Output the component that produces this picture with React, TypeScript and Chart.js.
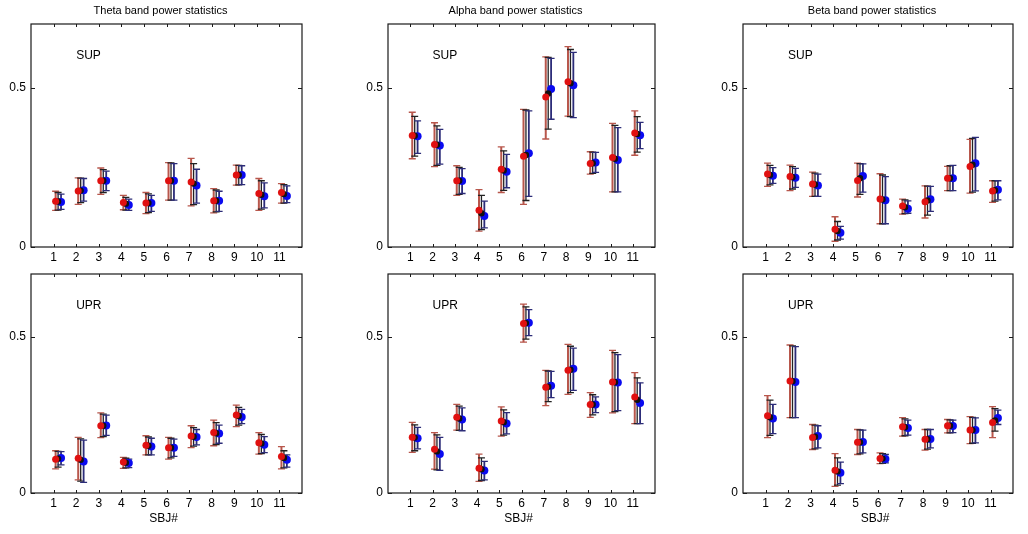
import React, { useEffect, useRef } from "react";
import { Chart, registerables } from "chart.js";

Chart.register(...registerables);

// ---------------- data ----------------
const subjects = [1, 2, 3, 4, 5, 6, 7, 8, 9, 10, 11];
const yTicks = [0, 0.5];

// Theta SUP
const thetaSupRed = [0.144, 0.176, 0.208, 0.140, 0.138, 0.208, 0.204, 0.145, 0.226, 0.168, 0.171];
const thetaSupRedLo = [0.115, 0.134, 0.165, 0.117, 0.105, 0.147, 0.129, 0.107, 0.194, 0.115, 0.138];
const thetaSupRedHi = [0.175, 0.217, 0.248, 0.162, 0.171, 0.265, 0.278, 0.183, 0.257, 0.215, 0.199];
const thetaSupBlack = [0.143, 0.177, 0.208, 0.136, 0.138, 0.208, 0.199, 0.145, 0.226, 0.164, 0.166];
const thetaSupBlackLo = [0.116, 0.139, 0.171, 0.116, 0.108, 0.147, 0.133, 0.110, 0.195, 0.119, 0.138];
const thetaSupBlackHi = [0.171, 0.216, 0.243, 0.156, 0.167, 0.264, 0.262, 0.179, 0.256, 0.208, 0.196];
const thetaSupBlue = [0.141, 0.178, 0.208, 0.132, 0.138, 0.208, 0.193, 0.145, 0.226, 0.159, 0.160];
const thetaSupBlueLo = [0.118, 0.144, 0.177, 0.115, 0.112, 0.147, 0.138, 0.112, 0.196, 0.123, 0.139];
const thetaSupBlueHi = [0.166, 0.215, 0.238, 0.150, 0.162, 0.262, 0.244, 0.175, 0.255, 0.201, 0.192];

// Alpha SUP
const alphaSupRed = [0.350, 0.322, 0.208, 0.115, 0.244, 0.285, 0.471, 0.519, 0.262, 0.281, 0.358];
const alphaSupRedLo = [0.277, 0.252, 0.162, 0.050, 0.171, 0.134, 0.339, 0.411, 0.229, 0.173, 0.288];
const alphaSupRedHi = [0.423, 0.390, 0.255, 0.180, 0.314, 0.432, 0.597, 0.629, 0.299, 0.388, 0.427];
const alphaSupBlack = [0.349, 0.321, 0.208, 0.106, 0.240, 0.289, 0.482, 0.514, 0.263, 0.277, 0.355];
const alphaSupBlackLo = [0.285, 0.256, 0.165, 0.055, 0.178, 0.146, 0.370, 0.409, 0.231, 0.173, 0.298];
const alphaSupBlackHi = [0.410, 0.380, 0.250, 0.162, 0.302, 0.430, 0.595, 0.620, 0.298, 0.382, 0.409];
const alphaSupBlue = [0.348, 0.319, 0.207, 0.097, 0.236, 0.294, 0.496, 0.508, 0.265, 0.273, 0.351];
const alphaSupBlueLo = [0.294, 0.260, 0.168, 0.060, 0.186, 0.159, 0.401, 0.406, 0.234, 0.173, 0.309];
const alphaSupBlueHi = [0.396, 0.369, 0.246, 0.144, 0.291, 0.427, 0.592, 0.611, 0.297, 0.375, 0.391];

// Beta SUP
const betaSupRed = [0.229, 0.221, 0.198, 0.056, 0.209, 0.151, 0.129, 0.142, 0.216, 0.253, 0.176];
const betaSupRedLo = [0.190, 0.177, 0.159, 0.018, 0.157, 0.073, 0.103, 0.091, 0.177, 0.169, 0.140];
const betaSupRedHi = [0.263, 0.257, 0.235, 0.095, 0.263, 0.230, 0.150, 0.192, 0.253, 0.338, 0.208];
const betaSupBlack = [0.226, 0.219, 0.196, 0.050, 0.216, 0.149, 0.125, 0.146, 0.216, 0.258, 0.178];
const betaSupBlackLo = [0.195, 0.182, 0.159, 0.022, 0.165, 0.073, 0.105, 0.100, 0.177, 0.172, 0.144];
const betaSupBlackHi = [0.256, 0.252, 0.232, 0.080, 0.262, 0.226, 0.148, 0.191, 0.255, 0.341, 0.208];
const betaSupBlue = [0.224, 0.217, 0.193, 0.045, 0.223, 0.147, 0.120, 0.150, 0.216, 0.263, 0.180];
const betaSupBlueLo = [0.200, 0.187, 0.159, 0.025, 0.172, 0.073, 0.106, 0.112, 0.177, 0.176, 0.148];
const betaSupBlueHi = [0.249, 0.247, 0.229, 0.065, 0.261, 0.221, 0.145, 0.190, 0.256, 0.344, 0.208];

// Theta UPR
const thetaUprRed = [0.108, 0.111, 0.215, 0.099, 0.153, 0.145, 0.182, 0.193, 0.249, 0.161, 0.117];
const thetaUprRedLo = [0.077, 0.042, 0.177, 0.079, 0.122, 0.108, 0.145, 0.151, 0.212, 0.124, 0.077];
const thetaUprRedHi = [0.135, 0.178, 0.256, 0.114, 0.183, 0.178, 0.215, 0.233, 0.281, 0.193, 0.148];
const thetaUprBlack = [0.110, 0.106, 0.215, 0.097, 0.151, 0.145, 0.180, 0.191, 0.246, 0.158, 0.112];
const thetaUprBlackLo = [0.083, 0.038, 0.180, 0.080, 0.122, 0.112, 0.150, 0.155, 0.217, 0.126, 0.080];
const thetaUprBlackHi = [0.133, 0.173, 0.252, 0.111, 0.179, 0.175, 0.209, 0.225, 0.274, 0.187, 0.135];
const thetaUprBlue = [0.112, 0.101, 0.216, 0.096, 0.149, 0.145, 0.179, 0.190, 0.243, 0.154, 0.106];
const thetaUprBlueLo = [0.090, 0.034, 0.184, 0.081, 0.122, 0.117, 0.154, 0.159, 0.222, 0.129, 0.083];
const thetaUprBlueHi = [0.132, 0.169, 0.249, 0.108, 0.175, 0.172, 0.203, 0.217, 0.267, 0.180, 0.122];

// Alpha UPR
const alphaUprRed = [0.178, 0.140, 0.242, 0.079, 0.230, 0.542, 0.338, 0.392, 0.283, 0.355, 0.307];
const alphaUprRedLo = [0.130, 0.076, 0.201, 0.037, 0.182, 0.482, 0.279, 0.315, 0.242, 0.256, 0.222];
const alphaUprRedHi = [0.226, 0.193, 0.283, 0.124, 0.275, 0.604, 0.392, 0.475, 0.321, 0.456, 0.385];
const alphaUprBlack = [0.177, 0.133, 0.238, 0.076, 0.226, 0.543, 0.340, 0.394, 0.283, 0.354, 0.298];
const alphaUprBlackLo = [0.135, 0.074, 0.200, 0.040, 0.185, 0.492, 0.292, 0.321, 0.250, 0.260, 0.222];
const alphaUprBlackHi = [0.218, 0.186, 0.278, 0.112, 0.266, 0.595, 0.390, 0.469, 0.314, 0.449, 0.368];
const alphaUprBlue = [0.175, 0.125, 0.235, 0.072, 0.222, 0.544, 0.343, 0.397, 0.283, 0.353, 0.288];
const alphaUprBlueLo = [0.141, 0.072, 0.199, 0.042, 0.189, 0.503, 0.305, 0.328, 0.257, 0.263, 0.222];
const alphaUprBlueHi = [0.210, 0.178, 0.272, 0.101, 0.257, 0.586, 0.389, 0.463, 0.307, 0.442, 0.352];

// Beta UPR
const betaUprRed = [0.247, 0.358, 0.177, 0.073, 0.162, 0.110, 0.212, 0.172, 0.215, 0.201, 0.225];
const betaUprRedLo = [0.177, 0.241, 0.139, 0.021, 0.123, 0.094, 0.182, 0.137, 0.192, 0.158, 0.177];
const betaUprRedHi = [0.311, 0.473, 0.219, 0.126, 0.203, 0.128, 0.241, 0.203, 0.235, 0.244, 0.276];
const betaUprBlack = [0.242, 0.357, 0.180, 0.069, 0.162, 0.110, 0.210, 0.172, 0.215, 0.201, 0.232];
const betaUprBlackLo = [0.184, 0.241, 0.141, 0.025, 0.125, 0.095, 0.183, 0.140, 0.192, 0.159, 0.198];
const betaUprBlackHi = [0.297, 0.470, 0.217, 0.112, 0.202, 0.126, 0.237, 0.203, 0.234, 0.242, 0.270];
const betaUprBlue = [0.238, 0.355, 0.182, 0.065, 0.163, 0.109, 0.208, 0.173, 0.214, 0.201, 0.240];
const betaUprBlueLo = [0.190, 0.241, 0.144, 0.030, 0.128, 0.096, 0.185, 0.144, 0.193, 0.160, 0.219];
const betaUprBlueHi = [0.283, 0.468, 0.215, 0.099, 0.201, 0.123, 0.233, 0.203, 0.233, 0.240, 0.265];

// ---------------- layout / style ----------------
const FONT = "'Liberation Sans', Arial, Helvetica, sans-serif";

type Series = { v: number[]; lo: number[]; hi: number[] };
type Panel = {
  title?: string;
  label: string;
  xTitle?: string;
  l: number; t: number; w: number; h: number;
  red: Series; black: Series; blue: Series;
};

const TOP_T = 24, TOP_H = 223, BOT_T = 274, BOT_H = 219;
const COLS = [
  { l: 31, w: 271 },
  { l: 388, w: 267 },
  { l: 743, w: 270 },
];

const panels: Panel[] = [
  { title: "Theta band power statistics", label: "SUP", ...COLS[0], t: TOP_T, h: TOP_H,
    red: { v: thetaSupRed, lo: thetaSupRedLo, hi: thetaSupRedHi },
    black: { v: thetaSupBlack, lo: thetaSupBlackLo, hi: thetaSupBlackHi },
    blue: { v: thetaSupBlue, lo: thetaSupBlueLo, hi: thetaSupBlueHi } },
  { title: "Alpha band power statistics", label: "SUP", ...COLS[1], t: TOP_T, h: TOP_H,
    red: { v: alphaSupRed, lo: alphaSupRedLo, hi: alphaSupRedHi },
    black: { v: alphaSupBlack, lo: alphaSupBlackLo, hi: alphaSupBlackHi },
    blue: { v: alphaSupBlue, lo: alphaSupBlueLo, hi: alphaSupBlueHi } },
  { title: "Beta band power statistics", label: "SUP", ...COLS[2], t: TOP_T, h: TOP_H,
    red: { v: betaSupRed, lo: betaSupRedLo, hi: betaSupRedHi },
    black: { v: betaSupBlack, lo: betaSupBlackLo, hi: betaSupBlackHi },
    blue: { v: betaSupBlue, lo: betaSupBlueLo, hi: betaSupBlueHi } },
  { label: "UPR", xTitle: "SBJ#", ...COLS[0], t: BOT_T, h: BOT_H,
    red: { v: thetaUprRed, lo: thetaUprRedLo, hi: thetaUprRedHi },
    black: { v: thetaUprBlack, lo: thetaUprBlackLo, hi: thetaUprBlackHi },
    blue: { v: thetaUprBlue, lo: thetaUprBlueLo, hi: thetaUprBlueHi } },
  { label: "UPR", xTitle: "SBJ#", ...COLS[1], t: BOT_T, h: BOT_H,
    red: { v: alphaUprRed, lo: alphaUprRedLo, hi: alphaUprRedHi },
    black: { v: alphaUprBlack, lo: alphaUprBlackLo, hi: alphaUprBlackHi },
    blue: { v: alphaUprBlue, lo: alphaUprBlueLo, hi: alphaUprBlueHi } },
  { label: "UPR", xTitle: "SBJ#", ...COLS[2], t: BOT_T, h: BOT_H,
    red: { v: betaUprRed, lo: betaUprRedLo, hi: betaUprRedHi },
    black: { v: betaUprBlack, lo: betaUprBlackLo, hi: betaUprBlackHi },
    blue: { v: betaUprBlue, lo: betaUprBlueLo, hi: betaUprBlueHi } },
];

const PAD_L = 40, PAD_T = 24, PAD_R = 12, PAD_B = 40;

const SERIES_STYLE = [
  { key: "red", off: 0.09, point: "#e01010", bar: "#b8574c", barW: 2, r: 3.5 },
  { key: "black", off: 0.2, point: "#111111", bar: "#222222", barW: 1.3, r: 3.2 },
  { key: "blue", off: 0.33, point: "#0a0af0", bar: "#2c2c78", barW: 1.8, r: 4 },
] as const;

const errorBarPlugin = {
  id: "errorBars",
  beforeDatasetsDraw(chart: any) {
    const { ctx, scales } = chart;
    const xs = scales.x, ys = scales.y;
    ctx.save();
    chart.data.datasets.forEach((ds: any) => {
      ctx.strokeStyle = ds.barColor;
      ctx.lineWidth = ds.barWidth;
      ds.data.forEach((p: any) => {
        const px = xs.getPixelForValue(p.x);
        const yl = ys.getPixelForValue(p.lo);
        const yh = ys.getPixelForValue(p.hi);
        ctx.beginPath();
        ctx.moveTo(px, yl);
        ctx.lineTo(px, yh);
        ctx.stroke();
        ctx.lineWidth = 1.3;
        ctx.beginPath();
        ctx.moveTo(px - 3.5, yl);
        ctx.lineTo(px + 3.5, yl);
        ctx.moveTo(px - 3.5, yh);
        ctx.lineTo(px + 3.5, yh);
        ctx.stroke();
        ctx.lineWidth = ds.barWidth;
      });
    });
    ctx.restore();
  },
};

const framePlugin = {
  id: "frame",
  afterDraw(chart: any) {
    const { ctx, chartArea: a, scales } = chart;
    const panel: Panel = chart.options.plugins.frame.panel;
    ctx.save();
    ctx.strokeStyle = "#1a1a1a";
    ctx.lineWidth = 1.2;
    ctx.strokeRect(a.left, a.top, a.right - a.left, a.bottom - a.top);
    // inner tick marks
    ctx.lineWidth = 1;
    ctx.beginPath();
    subjects.forEach((s) => {
      const x = Math.round(scales.x.getPixelForValue(s)) + 0.5;
      ctx.moveTo(x, a.bottom);
      ctx.lineTo(x, a.bottom - 3);
      ctx.moveTo(x, a.top);
      ctx.lineTo(x, a.top + 3);
    });
    yTicks.forEach((v) => {
      const y = Math.round(scales.y.getPixelForValue(v)) + 0.5;
      ctx.moveTo(a.left, y);
      ctx.lineTo(a.left + 4, y);
      ctx.moveTo(a.right, y);
      ctx.lineTo(a.right - 4, y);
    });
    ctx.stroke();
    ctx.fillStyle = "#000";
    // panel label
    ctx.font = `12px ${FONT}`;
    ctx.textAlign = "left";
    ctx.textBaseline = "middle";
    ctx.fillText(panel.label, scales.x.getPixelForValue(2), scales.y.getPixelForValue(0.6));
    // title
    const cx = (a.left + a.right) / 2;
    if (panel.title) {
      ctx.font = `11px ${FONT}`;
      ctx.textAlign = "center";
      ctx.textBaseline = "middle";
      ctx.fillText(panel.title, cx - 6, a.top - 13);
    }
    if (panel.xTitle) {
      ctx.font = `12px ${FONT}`;
      ctx.textAlign = "center";
      ctx.textBaseline = "middle";
      ctx.fillText(panel.xTitle, cx - 3, a.bottom + 26);
    }
    ctx.restore();
  },
};

function PanelChart({ panel }: { panel: Panel }) {
  const ref = useRef<HTMLCanvasElement | null>(null);
  const W = panel.w + PAD_L + PAD_R;
  const H = panel.h + PAD_T + PAD_B;

  useEffect(() => {
    if (!ref.current) return;
    const datasets = SERIES_STYLE.map((st) => {
      const s: Series = (panel as any)[st.key];
      return {
        label: st.key,
        data: subjects.map((sub, i) => ({ x: sub + st.off, y: s.v[i], lo: s.lo[i], hi: s.hi[i] })),
        backgroundColor: st.point,
        borderColor: st.point,
        pointRadius: st.r,
        pointHoverRadius: st.r,
        pointBorderWidth: 0,
        barColor: st.bar,
        barWidth: st.barW,
      } as any;
    });
    const chart = new Chart(ref.current, {
      type: "scatter",
      data: { datasets },
      options: {
        animation: false,
        responsive: false,
        devicePixelRatio: 1,
        layout: { padding: { left: 0, top: PAD_T, right: PAD_R, bottom: 0 } },
        plugins: {
          legend: { display: false },
          tooltip: { enabled: false },
          title: { display: false },
          frame: { panel },
        } as any,
        scales: {
          x: {
            type: "linear",
            min: 0,
            max: 12,
            afterBuildTicks: (s: any) => {
              s.ticks = subjects.map((v) => ({ value: v }));
            },
            afterFit: (s: any) => {
              s.height = PAD_B;
            },
            ticks: {
              autoSkip: false,
              maxRotation: 0,
              padding: 3,
              color: "#000",
              font: { family: FONT, size: 12 },
              callback: (v: any) => String(v),
            },
            grid: { display: false, drawTicks: false },
            border: { display: false },
          },
          y: {
            type: "linear",
            min: 0,
            max: 0.7,
            afterBuildTicks: (s: any) => {
              s.ticks = yTicks.map((v) => ({ value: v }));
            },
            afterFit: (s: any) => {
              s.width = PAD_L;
            },
            ticks: {
              padding: 5,
              color: "#000",
              font: { family: FONT, size: 12 },
              callback: (v: any) => (v === 0 ? "0" : String(v)),
            },
            grid: { display: false, drawTicks: false },
            border: { display: false },
          },
        },
      },
      plugins: [errorBarPlugin, framePlugin],
    });
    return () => chart.destroy();
  }, [panel]);

  return (
    <canvas
      ref={ref}
      width={W}
      height={H}
      style={{ position: "absolute", left: panel.l - PAD_L, top: panel.t - PAD_T, width: W, height: H }}
    />
  );
}

export default function App() {
  return (
    <div
      style={{
        position: "absolute",
        left: 0,
        top: 0,
        width: 1028,
        height: 534,
        background: "#fff",
        overflow: "hidden",
      }}
    >
      {panels.map((p, i) => (
        <PanelChart key={i} panel={p} />
      ))}
    </div>
  );
}
